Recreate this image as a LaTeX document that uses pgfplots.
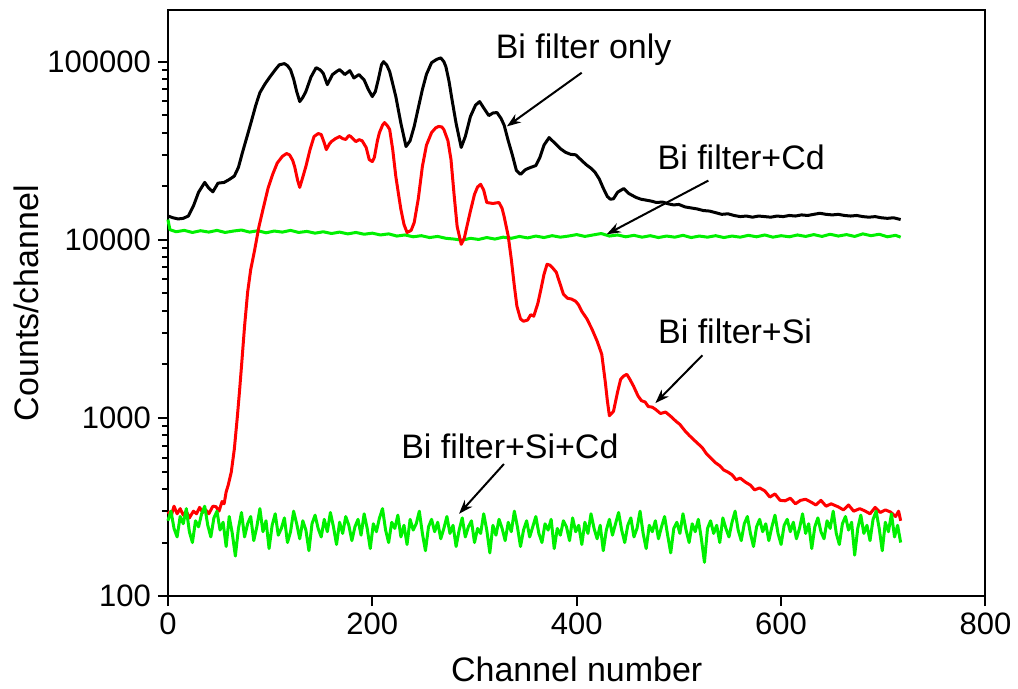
\documentclass[border=0pt]{standalone}
\usepackage{fontspec}
\setmainfont{Liberation Sans}
\usepackage{pgfplots}
\pgfplotsset{compat=1.18}
\usetikzlibrary{arrows.meta}
\definecolor{cdgreen}{HTML}{00F000}
\definecolor{sired}{HTML}{FF0000}

% Bi filter only
\pgfplotstableread{
x y
0 13600
5 13300
10 13100
15 13200
20 13600
25 15500
30 18500
36 21000
40 19500
44 18600
49 20800
55 21000
60 21800
65 22800
69 25500
73 31000
78 39000
82 47000
86 57000
90 67000
95 75000
100 82400
105 90000
109 96000
114 97500
117 95000
120 90000
123 80000
126 68000
129 59700
132 63000
135 68000
140 82000
145 92500
149 90000
152 86000
156 74300
161 84600
165 88000
168 90200
171 87000
173 84600
178 89000
182 81000
187 84600
192 79000
196 70000
200 63700
203 68000
206 80000
209 96000
211 100000
214 96000
217 88000
220 75000
223 63700
228 45000
233 33400
237 36000
241 43300
245 55000
249 69700
253 85000
258 98700
263 103000
267 105000
270 100000
272 93700
275 78000
278 61200
282 45000
287 33000
291 38000
296 49200
301 57000
305 59700
309 55000
314 49800
318 51500
322 51800
326 48000
329 44000
333 36000
337 30000
341 24500
345 23300
350 24800
355 25500
360 26100
364 29000
368 34000
373 37500
379 34700
384 32500
389 31000
394 30200
399 30000
404 28200
409 26500
414 25200
418 23900
422 22000
426 19500
430 17500
433 16900
436 17000
440 18500
446 19400
451 18200
458 17300
463 16900
468 16700
473 16500
478 16200
484 16300
490 15900
495 15700
500 15800
506 15300
512 15100
518 14900
524 14600
530 14500
536 14200
542 13900
548 14000
554 13700
560 13500
566 13600
572 13400
578 13600
584 13500
590 13400
596 13600
602 13500
608 13700
614 13600
620 13800
626 13700
632 13900
638 14100
644 13900
650 13800
656 13900
662 13700
668 13600
674 13700
680 13500
686 13400
692 13500
698 13300
704 13200
710 13300
717 13000
}\bionly

% Bi filter + Cd
\pgfplotstableread{
x y
0 13000
2 11400
8 11100
16 11300
24 11000
32 11250
40 11050
48 11300
56 11000
64 11200
72 11350
80 11050
88 11250
96 10950
104 11200
112 11050
120 11300
128 11000
136 11150
144 10900
152 11100
160 10850
168 11050
176 10800
184 11000
192 10750
200 10900
208 10650
216 10800
224 10500
232 10650
240 10400
248 10550
256 10300
264 10450
272 10200
280 10100
288 9950
296 10200
304 10050
312 10300
320 10100
328 10350
336 10200
344 10450
352 10250
360 10500
368 10300
376 10550
384 10350
392 10500
400 10700
408 10450
416 10650
424 10850
432 10500
440 10650
448 10400
456 10600
464 10350
472 10550
480 10300
488 10500
496 10350
504 10600
512 10300
520 10500
528 10350
536 10550
544 10300
552 10500
560 10350
568 10600
576 10400
584 10650
592 10350
600 10550
608 10400
616 10650
624 10450
632 10700
640 10450
648 10750
656 10500
664 10700
672 10450
680 10800
688 10550
696 10750
704 10400
712 10600
717 10350
}\bicd

% Bi filter + Si
\pgfplotstableread{
x y
0 300
3 280
6 320
9 290
12 310
15 285
18 300
21 275
25 300
28 290
31 315
34 295
37 305
40 290
44 320
47 318
50 300
53 340
55 330
57 385
59 420
62 497
65 670
68 1025
70 1400
72 1950
75 3270
78 5080
81 6800
85 8850
89 11800
93 14800
98 19500
102.5 23300
107 27000
112 29400
116 30500
119 30000
122 28000
124 25800
127 21500
129 19700
132 22500
135 25800
139 32000
143 38000
147 39500
150 39000
153 35000
155 32100
158 34500
160 35600
164 37000
168 38000
171 37000
174 36600
177 38500
179 38000
182 36500
184 35600
187 36500
190 36000
194 33000
197 28200
200 27500
202 29000
205 36000
207 40000
210 44000
212 45500
215 43500
217 41600
220 32000
223 22700
226 17500
228 14800
231 12200
234 11000
238 11300
241 12500
245 17000
249 25800
253 34000
258 40000
262 42500
265 43300
268 43000
270 41600
274 36000
277 28200
280 18000
283 11900
287 9440
290 10200
292 11500
296 14500
300 18000
303 19800
306 20500
309 19000
312 16200
318 16000
324 16200
327 15000
329 13500
333 10500
336 7780
339 5500
341.5 4240
345 3600
348 3490
352 3550
355 3800
358 3730
362 4400
365 5280
368 6400
371 7300
374 7200
377 6900
380 6580
384 5600
387 4950
391 4700
395 4650
399 4520
402 4300
405 3970
410 3600
415 3150
420 2700
424.5 2280
428 1590
430 1250
432 1030
434 1060
436 1090
440 1400
443 1650
446 1720
449 1760
452 1650
455.6 1510
460 1330
463.4 1250
467 1230
470 1160
474 1150
477 1120
482 1060
487 1080
493 1010
497 960
501 920
506 846
510 800
514 760
519 715
523 680
527 630
532 589
536 560
540 540
544 510
548 497
552 480
556 450
560 460
565 437
570 420
574 395
579 405
584 390
589 360
594 375
599 345
604 343
609 355
614 330
619 345
624 350
629 338
634 325
639 345
644 320
649 330
656 317
661 305
666 325
671 300
677 310
682 301
687 290
692 315
697 295
702 305
707 297
712 280
715 300
717 265
}\bisi

% Bi filter + Si + Cd
\pgfplotstableread{
x y
0 265
3 300
6 240
9 215
12 280
15 255
18 310
21 230
24 200
27 265
30 245
33 290
36 320
39 250
42 215
45 275
48 300
51 235
54 260
57 190
60 280
63 225
66 168
69 240
72 295
75 215
78 255
81 280
84 205
87 245
90 310
93 230
96 265
99 185
102 250
105 290
108 220
111 240
114 275
117 200
120 230
123 300
126 255
129 210
132 265
135 235
138 180
141 255
144 285
147 240
150 215
153 270
156 230
159 295
162 245
165 195
168 260
171 225
174 280
177 250
180 205
183 245
186 270
189 220
192 290
195 240
198 185
201 255
204 230
207 275
210 310
213 235
216 200
219 260
222 240
225 285
228 215
231 250
234 195
237 270
240 235
243 255
246 300
249 225
252 180
255 245
258 270
261 230
264 260
267 210
270 240
273 280
276 225
279 250
282 190
285 235
288 275
291 215
294 245
297 265
300 200
303 240
306 225
309 290
312 235
315 175
318 250
321 220
324 270
327 240
330 205
333 260
336 230
339 300
342 245
345 190
348 235
351 265
354 215
357 245
360 280
363 225
366 200
369 255
372 235
375 270
378 185
381 240
384 220
387 265
390 245
393 205
396 275
399 230
402 250
405 195
408 260
411 225
414 290
417 240
420 210
423 250
426 180
429 235
432 270
435 220
438 255
441 295
444 235
447 200
450 250
453 275
456 215
459 240
462 300
465 225
468 185
471 250
474 230
477 265
480 210
483 245
486 280
489 220
492 175
495 240
498 260
501 225
504 290
507 235
510 200
513 255
516 230
519 270
522 210
525 155
528 240
531 265
534 225
537 250
540 200
543 275
546 240
549 215
552 260
555 300
558 235
561 205
564 255
567 280
570 225
573 190
576 245
579 270
582 230
585 255
588 205
591 245
594 285
597 225
600 195
603 250
606 270
609 230
612 260
615 210
618 240
621 290
624 225
627 255
630 185
633 245
636 275
639 230
642 210
645 265
648 240
651 300
654 225
657 195
660 255
663 280
666 235
669 260
672 170
675 240
678 285
681 225
684 250
687 205
690 270
693 300
696 240
699 180
702 260
705 230
708 290
711 215
714 250
717 200
}\bisicd

\begin{document}
\begin{tikzpicture}
\begin{axis}[
  scale only axis,
  width=409pt, height=293.25pt,
  ymode=log,
  xmin=0, xmax=800, ymin=100, ymax=195000,
  xtick={0,200,400,600,800},
  ytick={100,1000,10000,100000},
  yticklabels={100,1000,10000,100000},
  xtick pos=bottom,
  ytick pos=left,
  xtick align=outside,
  ytick align=outside,
  major tick length=5pt,
  axis line style={line width=1pt},
  tick style={line width=1pt, black},
  /pgf/number format/assume math mode=true,
  ticklabel style={font=\fontsize{15.5}{18}\selectfont},
  label style={font=\fontsize{17}{20}\selectfont},
  xlabel={Channel number},
  ylabel={Counts/channel},
  x label style={at={(axis description cs:0.5,-0.125)}, anchor=center},
  y label style={at={(axis description cs:-0.1736,0.5)}, anchor=center},
  every axis plot/.style={line width=1.5pt, line join=round},
  clip=false,
]
\addplot[black, no marks] table {\bionly};
\addplot[cdgreen, no marks] table {\bicd};
\addplot[sired, no marks] table {\bisi};
\addplot[cdgreen, no marks] table {\bisicd};

% tick marks, drawn outward with fixed lengths
\pgfplotsinvokeforeach{0,200,400,600,800}{
  \draw[line width=1pt] (axis cs:#1,100) -- ([yshift=-5pt]axis cs:#1,100);
}
\pgfplotsinvokeforeach{100,1000,10000,100000}{
  \draw[line width=1pt] (axis cs:0,#1) -- ([xshift=-5pt]axis cs:0,#1);
}
\pgfplotsinvokeforeach{200,300,400,500,600,700,800,900,2000,3000,4000,5000,6000,7000,8000,9000,20000,30000,40000,50000,60000,70000,80000,90000}{
  \draw[line width=1pt] (axis cs:0,#1) -- ([xshift=-2.5pt]axis cs:0,#1);
}

\begin{scope}[font=\fontsize{17}{20}\selectfont]
\node at (axis cs:406.8,116700) {Bi filter only};
\node at (axis cs:561,29000) {Bi filter+Cd};
\node at (axis cs:555,3070) {Bi filter+Si};
\node at (axis cs:334.6,697) {Bi filter+Si+Cd};
\end{scope}
\begin{scope}[line width=1pt, -{Stealth[length=7pt, width=5pt]}]
\draw (axis cs:404.9,86700) -- (axis cs:331.7,43300);
\draw (axis cs:528.8,21500) -- (axis cs:429.3,10740);
\draw (axis cs:523,2250) -- (axis cs:477,1213);
\draw (axis cs:328.8,552) -- (axis cs:284.9,290);
\end{scope}
\end{axis}
\path (-84pt,-46.25pt) rectangle (425pt,298.25pt);
\end{tikzpicture}
\end{document}
